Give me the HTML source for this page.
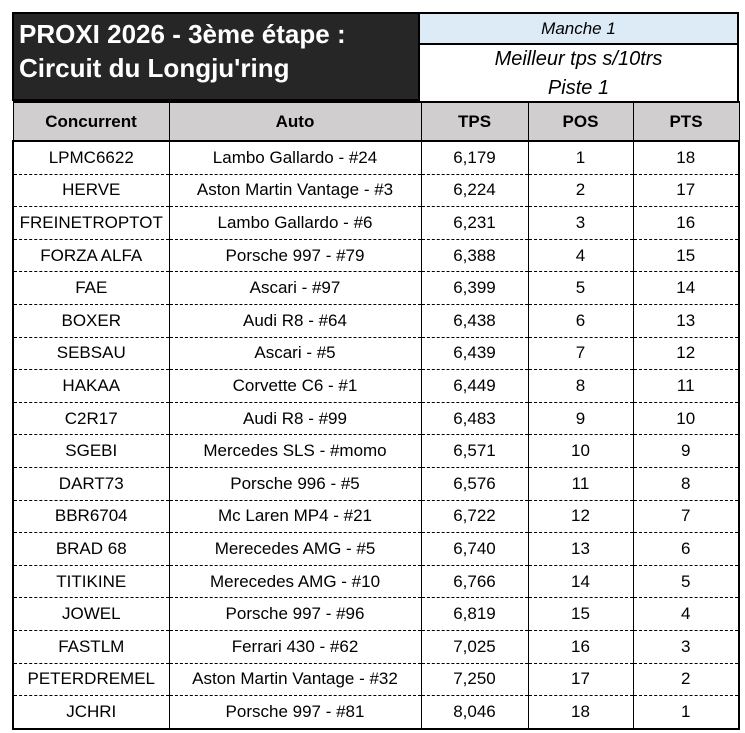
<!DOCTYPE html><html><head><meta charset="utf-8"><style>
body{margin:0;background:#fff;width:745px;height:733px;position:relative;font-family:"Liberation Sans",sans-serif;}
.hd{position:absolute;left:12px;top:12px;width:408px;height:89px;background:#262626;color:#fff;font-weight:bold;font-size:26px;line-height:34px;padding:3px 0 0 5px;box-sizing:border-box;border:2px solid #000;white-space:nowrap;}
.m1{position:absolute;left:420px;top:12px;width:319px;height:33px;background:#ddebf7;border:2px solid #000;border-left:none;box-sizing:border-box;font-style:italic;font-size:17px;text-align:center;line-height:30px;}
.m2{position:absolute;left:420px;top:45px;width:319px;height:56px;border-right:2px solid #000;box-sizing:border-box;font-style:italic;font-size:20px;text-align:center;line-height:29px;}
table{position:absolute;left:12px;top:101px;border-collapse:collapse;table-layout:fixed;font-size:17px;}
td{text-align:center;height:31.6px;padding:0;border-left:1px solid #000;border-right:1px solid #000;border-bottom:1px dashed #000;}
tr.h td{background:#d0cece;font-weight:bold;height:37px;border:1px solid #000;border-top:2px solid #000;border-bottom:2px solid #000;}
td:first-child{border-left:2px solid #000;}td:last-child{border-right:2px solid #000;}
tr:last-child td{border-bottom:2px solid #000;}
</style></head><body>
<div class="hd">PROXI 2026 - 3ème étape :<br>Circuit du Longju'ring</div>
<div class="m1">Manche 1</div>
<div class="m2">Meilleur tps s/10trs<br>Piste 1</div>
<table>
<colgroup><col style="width:156px"><col style="width:252px"><col style="width:107px"><col style="width:105px"><col style="width:106px"></colgroup>
<tr class="h"><td>Concurrent</td><td>Auto</td><td>TPS</td><td>POS</td><td>PTS</td></tr>
<tr><td>LPMC6622</td><td>Lambo Gallardo - #24</td><td>6,179</td><td>1</td><td>18</td></tr>
<tr><td>HERVE</td><td>Aston Martin Vantage - #3</td><td>6,224</td><td>2</td><td>17</td></tr>
<tr><td>FREINETROPTOT</td><td>Lambo Gallardo - #6</td><td>6,231</td><td>3</td><td>16</td></tr>
<tr><td>FORZA ALFA</td><td>Porsche 997 - #79</td><td>6,388</td><td>4</td><td>15</td></tr>
<tr><td>FAE</td><td>Ascari - #97</td><td>6,399</td><td>5</td><td>14</td></tr>
<tr><td>BOXER</td><td>Audi R8 - #64</td><td>6,438</td><td>6</td><td>13</td></tr>
<tr><td>SEBSAU</td><td>Ascari - #5</td><td>6,439</td><td>7</td><td>12</td></tr>
<tr><td>HAKAA</td><td>Corvette C6 - #1</td><td>6,449</td><td>8</td><td>11</td></tr>
<tr><td>C2R17</td><td>Audi R8 - #99</td><td>6,483</td><td>9</td><td>10</td></tr>
<tr><td>SGEBI</td><td>Mercedes SLS - #momo</td><td>6,571</td><td>10</td><td>9</td></tr>
<tr><td>DART73</td><td>Porsche 996 - #5</td><td>6,576</td><td>11</td><td>8</td></tr>
<tr><td>BBR6704</td><td>Mc Laren MP4 - #21</td><td>6,722</td><td>12</td><td>7</td></tr>
<tr><td>BRAD 68</td><td>Merecedes AMG - #5</td><td>6,740</td><td>13</td><td>6</td></tr>
<tr><td>TITIKINE</td><td>Merecedes AMG - #10</td><td>6,766</td><td>14</td><td>5</td></tr>
<tr><td>JOWEL</td><td>Porsche 997 - #96</td><td>6,819</td><td>15</td><td>4</td></tr>
<tr><td>FASTLM</td><td>Ferrari 430 - #62</td><td>7,025</td><td>16</td><td>3</td></tr>
<tr><td>PETERDREMEL</td><td>Aston Martin Vantage - #32</td><td>7,250</td><td>17</td><td>2</td></tr>
<tr><td>JCHRI</td><td>Porsche 997 - #81</td><td>8,046</td><td>18</td><td>1</td></tr>
</table>
</body></html>
